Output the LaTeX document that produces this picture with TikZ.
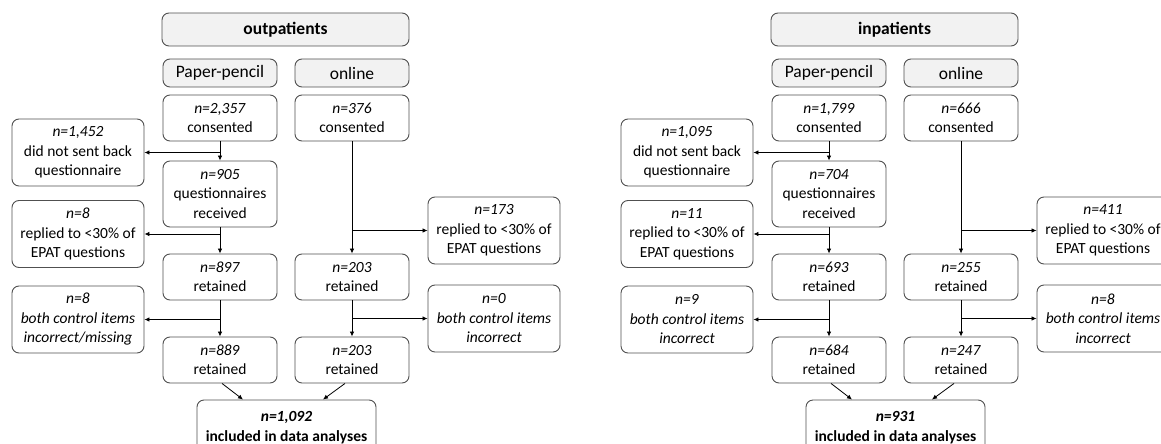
\documentclass[tikz,border=0pt]{standalone}
\usepackage{fontspec}
\setmainfont{Carlito}
\usetikzlibrary{arrows.meta}
\definecolor{bordergray}{HTML}{505050}
\definecolor{hdrfill}{HTML}{F2F2F2}
\tikzset{
  box/.style={draw=bordergray, rounded corners=7pt, line width=0.9pt, align=center, inner sep=0pt,
    font=\fontsize{15.5}{19.5}\selectfont, fill=white},
  hdr/.style={box, fill=hdrfill, font=\fontsize{17.5}{20}\selectfont},
  sbox/.style={box, minimum width=114pt, minimum height=46pt},
  tbox/.style={box, minimum width=114pt, minimum height=66pt},
  xbox/.style={box, minimum width=132pt, minimum height=67pt},
  fbox/.style={box, minimum width=179pt, minimum height=55pt},
  arr/.style={draw=black, line width=0.8pt, -{Latex[length=5pt,width=4.5pt]}}
}
\begin{document}
\begin{tikzpicture}[x=1pt,y=-1pt]
\useasboundingbox (0,0) rectangle (1161,444);
\clip (0,0) rectangle (1161,444);
% ---------------- outpatients ----------------
\node[hdr, minimum width=247pt, minimum height=33pt] (oh) at (285.5,29.5) {\textbf{outpatients}};
\node[hdr, minimum width=114pt, minimum height=28pt] (opp) at (220,73) {Paper-pencil};
\node[hdr, minimum width=114pt, minimum height=28pt] (oon) at (352,73) {online};
\node[sbox] (oc1) at (220,118) {\textit{n=2,357}\\consented};
\node[sbox] (ooc1) at (352,118) {\textit{n=376}\\consented};
\node[xbox] (oex1) at (78,152.5) {\textit{n=1,452}\\did not sent back\\questionnaire};
\node[tbox] (or1) at (220,194) {\textit{n=905}\\questionnaires\\received};
\node[xbox] (oex2) at (78,234) {\textit{n=8}\\replied to <30\% of\\EPAT questions};
\node[xbox] (oexo1) at (494,230.5) {\textit{n=173}\\replied to <30\% of\\EPAT questions};
\node[sbox] (or2) at (220,277) {\textit{n=897}\\retained};
\node[sbox] (oor2) at (352,277) {\textit{n=203}\\retained};
\node[xbox] (oex3) at (78,319.5) {\textit{n=8}\\\textit{both control items}\\\textit{incorrect/missing}};
\node[xbox] (oexo2) at (494,318.5) {\textit{n=0}\\\textit{both control items}\\\textit{incorrect}};
\node[sbox] (or3) at (220,360) {\textit{n=889}\\retained};
\node[sbox] (oor3) at (352,360) {\textit{n=203}\\retained};
\node[fbox] (ofin) at (286.5,427.5) {\textbf{\textit{n=1,092}}\\\textbf{included in data analyses}};
\draw[arr] (oc1.south) -- (or1.north);
\draw[arr] (oc1.south |- oex1.east) -- (oex1.east);
\draw[arr] (or1.south) -- (or2.north);
\draw[arr] (or1.south |- oex2.east) -- (oex2.east);
\draw[arr] (or2.south) -- (or3.north);
\draw[arr] (or2.south |- oex3.east) -- (oex3.east);
\draw[arr] (ooc1.south) -- (oor2.north);
\draw[arr] (ooc1.south |- oexo1.west) -- (oexo1.west);
\draw[arr] (oor2.south) -- (oor3.north);
\draw[arr] (oor2.south |- oexo2.west) -- (oexo2.west);
\draw[arr] ([xshift=2pt]or3.south) -- ([xshift=-43.5pt]ofin.north);
\draw[arr] ([xshift=-7pt]oor3.south) -- ([xshift=36.5pt]ofin.north);
% ---------------- inpatients ----------------
\begin{scope}[xshift=609pt]
\node[hdr, minimum width=247pt, minimum height=33pt] (ih) at (285.5,29.5) {\textbf{inpatients}};
\node[hdr, minimum width=114pt, minimum height=28pt] (ipp) at (220,73) {Paper-pencil};
\node[hdr, minimum width=114pt, minimum height=28pt] (ion) at (352,73) {online};
\node[sbox] (ic1) at (220,118) {\textit{n=1,799}\\consented};
\node[sbox] (ioc1) at (352,118) {\textit{n=666}\\consented};
\node[xbox] (iex1) at (78,152.5) {\textit{n=1,095}\\did not sent back\\questionnaire};
\node[tbox] (ir1) at (220,194) {\textit{n=704}\\questionnaires\\received};
\node[xbox] (iex2) at (78,234) {\textit{n=11}\\replied to <30\% of\\EPAT questions};
\node[xbox] (iexo1) at (494,230.5) {\textit{n=411}\\replied to <30\% of\\EPAT questions};
\node[sbox] (ir2) at (220,277) {\textit{n=693}\\retained};
\node[sbox] (ior2) at (352,277) {\textit{n=255}\\retained};
\node[xbox] (iex3) at (78,319.5) {\textit{n=9}\\\textit{both control items}\\\textit{incorrect}};
\node[xbox] (iexo2) at (494,318.5) {\textit{n=8}\\\textit{both control items}\\\textit{incorrect}};
\node[sbox] (ir3) at (220,360) {\textit{n=684}\\retained};
\node[sbox] (ior3) at (352,360) {\textit{n=247}\\retained};
\node[fbox] (ifin) at (286.5,427.5) {\textbf{\textit{n=931}}\\\textbf{included in data analyses}};
\draw[arr] (ic1.south) -- (ir1.north);
\draw[arr] (ic1.south |- iex1.east) -- (iex1.east);
\draw[arr] (ir1.south) -- (ir2.north);
\draw[arr] (ir1.south |- iex2.east) -- (iex2.east);
\draw[arr] (ir2.south) -- (ir3.north);
\draw[arr] (ir2.south |- iex3.east) -- (iex3.east);
\draw[arr] (ioc1.south) -- (ior2.north);
\draw[arr] (ioc1.south |- iexo1.west) -- (iexo1.west);
\draw[arr] (ior2.south) -- (ior3.north);
\draw[arr] (ior2.south |- iexo2.west) -- (iexo2.west);
\draw[arr] ([xshift=2pt]ir3.south) -- ([xshift=-43.5pt]ifin.north);
\draw[arr] ([xshift=-7pt]ior3.south) -- ([xshift=36.5pt]ifin.north);
\end{scope}
\end{tikzpicture}
\end{document}
